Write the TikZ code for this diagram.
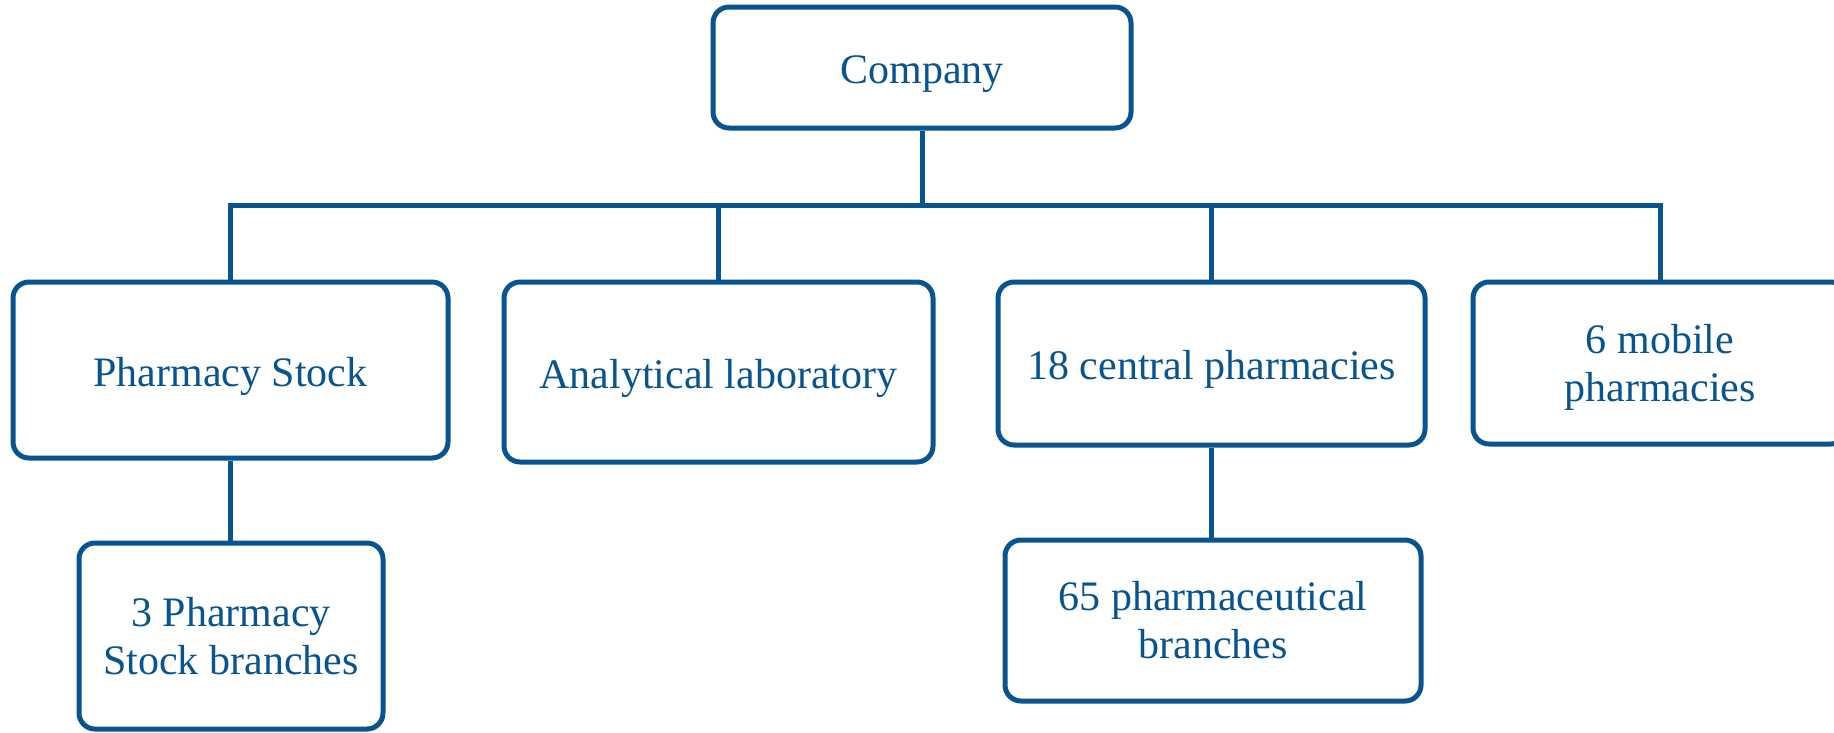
\documentclass[tikz,border=0pt]{standalone}
\usepackage{fontspec}
\setmainfont{Liberation Serif}
\definecolor{orgblue}{RGB}{8,84,144}
\begin{document}
\begin{tikzpicture}[x=1pt,y=-1pt,
  box/.style={draw=orgblue, line width=5pt, rounded corners=16pt, fill=white,
    inner sep=0pt, align=center, text=orgblue,
    font=\fontsize{42}{48}\selectfont},
  oneline/.style={text height=32pt, text depth=0pt},
  link/.style={draw=orgblue, line width=5pt}]
\clip (0,0) rectangle (1834,732);
\node[box, oneline, minimum width=418pt, minimum height=121pt] (company) at (922,67.5) {Company};
\node[box, oneline, minimum width=435pt, minimum height=176pt] (ps) at (230.5,370) {Pharmacy Stock};
\node[box, oneline, minimum width=429pt, minimum height=180pt] (lab) at (718.5,372) {Analytical laboratory};
\node[box, oneline, minimum width=427pt, minimum height=163pt] (cen) at (1211.5,363.5) {18 central pharmacies};
\node[box, text depth=0pt, minimum width=374pt, minimum height=162pt] (mob) at (1660,363) {6 mobile\\pharmacies};
\node[box, minimum width=304pt, minimum height=186pt] (ps3) at (231,636) {3 Pharmacy\\Stock branches};
\node[box, minimum width=416pt, minimum height=161pt] (ph65) at (1213,620.5) {65 pharmaceutical\\branches};
\coordinate (bus) at (0,205);
\draw[link] (ps.north) -- (ps.north |- bus) -- (mob.north |- bus) -- (mob.north);
\draw[link] (company.south) -- (company.south |- bus);
\draw[link] (lab.north) -- (lab.north |- bus);
\draw[link] (cen.north) -- (cen.north |- bus);
\draw[link] (ps.south) -- (ps.south |- ps3.north);
\draw[link] (cen.south) -- (cen.south |- ph65.north);
\end{tikzpicture}
\end{document}
